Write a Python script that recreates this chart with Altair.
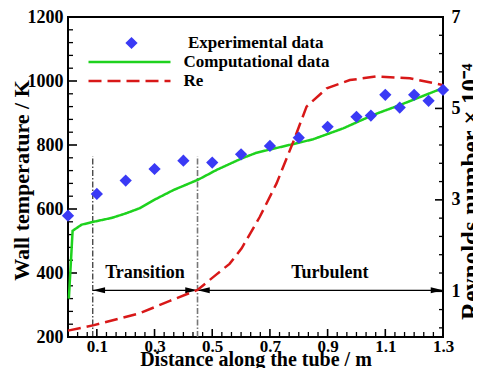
import altair as alt
import pandas as pd

SERIF = "Liberation Serif"
BLUE = "#3a3af5"
GREEN = "#1ed21e"
RED = "#d81818"

W, H = 375, 320

# ---- data ----
exp_x = [0.0, 0.1, 0.2, 0.3, 0.4, 0.5, 0.6, 0.7, 0.8, 0.9, 1.0, 1.05, 1.1, 1.15, 1.2, 1.25, 1.3]
exp_T = [579, 647, 689, 725, 751, 745, 771, 797, 823, 857, 888, 892, 957, 917, 957, 938, 972]

comp_x = [0.003, 0.016, 0.047, 0.088, 0.151, 0.203, 0.25, 0.302, 0.365, 0.452, 0.515,
          0.602, 0.654, 0.781, 0.85, 0.954, 1.058, 1.151, 1.3]
comp_T = [320, 532, 551, 560, 572, 587, 603, 630, 659, 692, 722,
          758, 776, 803, 818, 852, 894, 925, 978]

re_x = [0.0, 0.09, 0.249, 0.353, 0.449, 0.515, 0.56, 0.602, 0.665, 0.723, 0.781,
        0.827, 0.897, 0.977, 1.07, 1.185, 1.3]
re_v = [0.14, 0.26, 0.52, 0.79, 1.03, 1.37, 1.6, 1.94, 2.63, 3.36, 4.27,
        5.04, 5.44, 5.62, 5.70, 5.66, 5.51]

series_names = ["Experimental data", "Computational data", "Re"]

x_labels = [0.1, 0.3, 0.5, 0.7, 0.9, 1.1, 1.3]
x_minor = [round(i / 30, 4) for i in range(1, 39) if i % 6 != 3]
T_labels = [200, 400, 600, 800, 1000, 1200]
T_minor = [v for v in range(240, 1200, 40) if v % 200 != 0]
Re_labels = [1, 3, 5, 7]
Re_minor = [0.2, 0.6, 1.4, 1.8, 2.2, 2.6, 3.4, 3.8, 4.2, 4.6, 5.4, 5.8, 6.2, 6.6]

region_x = [0.086, 0.449]          # start of transition / start of turbulent
region_bottom = 200
region_top = 765
arrow_T = 346
arrow_end = 1.3
region_names = ["Transition", "Turbulent"]
region_label_x = [0.267, 0.908]
region_label_T = 400

# ---- tables ----
df_exp = pd.DataFrame({"x": exp_x, "T": exp_T, "series": series_names[0]})
df_comp = pd.DataFrame({"x": comp_x, "T": comp_T, "series": series_names[1]})
df_re = pd.DataFrame({"x": re_x, "re": re_v, "series": series_names[2]})
df_v1 = pd.DataFrame({"x": [region_x[0]], "y1": [region_bottom], "y2": [region_top]})
df_v2 = pd.DataFrame({"x": [region_x[1]], "y1": [region_bottom], "y2": [region_top]})
df_arrow = pd.DataFrame({"x": [region_x[0]], "x2": [arrow_end], "T": [arrow_T]})
df_head_l = pd.DataFrame({"x": [region_x[0], region_x[1]], "T": [arrow_T, arrow_T]})
df_head_r = pd.DataFrame({"x": [region_x[1], arrow_end], "T": [arrow_T, arrow_T]})
df_lab = pd.DataFrame({"x": region_label_x, "T": [region_label_T] * 2, "name": region_names})

X0, X1 = 0.0, 1.3
T0, T1 = 200, 1200
R0, R1 = 0, 7
xs = alt.Scale(domain=[X0, X1], nice=False, zero=False)
Ts = alt.Scale(domain=[T0, T1], nice=False, zero=False)
Rs = alt.Scale(domain=[R0, R1], nice=False, zero=False)

# tick lengths expressed in data units of each scale (major, minor)
len_T = ((T1 - T0) * 8 / H, (T1 - T0) * 5 / H)
len_X = ((X1 - X0) * 9 / W, (X1 - X0) * 5 / W)
len_XR = ((X1 - X0) * 8 / W, (X1 - X0) * 4 / W)


def ax(**kw):
    base = dict(grid=False, domain=False, ticks=False, tickSize=0, labelFont=SERIF,
                labelFontWeight="bold", labelColor="black", labelFontSize=18,
                labelFlush=False, labelOverlap=False, titleFont=SERIF,
                titleFontWeight="bold", titleColor="black", titleFontSize=22)
    base.update(kw)
    return alt.Axis(**base)


x_lab_axis = ax(orient="bottom", values=x_labels, labelPadding=1, labelFontSize=17,
                format=".1f", title="Distance along the tube / m", titleFontSize=20,
                titleY=28, titleBaseline="alphabetic")
T_lab_axis = ax(orient="left", values=T_labels, labelPadding=5, format="d",
                title="Wall temperature / K", titleAngle=270,
                titleX=-40, titleY=163, titleBaseline="alphabetic")
Re_lab_axis = ax(orient="right", values=Re_labels, labelPadding=8, format="d",
                 title="Reynolds number × 10⁻⁴", titleFontSize=25, titleAngle=270,
                 titleAlign="right", titleBaseline="alphabetic", titleX=35, titleY=46)

pts_legend = alt.Legend(title=None, orient="none", legendX=55, legendY=16.5, padding=0,
                        symbolSize=150, symbolFillColor=BLUE, symbolStrokeWidth=0,
                        labelFont=SERIF, labelFontSize=17, labelFontWeight="bold",
                        labelColor="black", labelOffset=48, clipHeight=19, rowPadding=0,
                        labelLimit=300)
line_legend = alt.Legend(title=None, orient="none", legendX=19, legendY=35.5, padding=0,
                         symbolSize=6724, symbolStrokeWidth=2.5, symbolType="stroke",
                         labelFont=SERIF, labelFontSize=17, labelFontWeight="bold",
                         labelColor="black", labelOffset=11.5, clipHeight=19, rowPadding=0,
                         labelLimit=300)

color_scale = alt.Scale(domain=series_names[1:], range=[GREEN, RED])
dash_scale = alt.Scale(domain=series_names[1:], range=[[1, 0], [13, 6]])


# ---- inward axis ticks, drawn through the scales ----
def xticks(vals, length, width):
    df = pd.DataFrame({"v": vals, "a": T0, "b": T0 + length})
    return alt.Chart(df).mark_rule(color="black", strokeWidth=width).encode(
        x=alt.X("v:Q", scale=xs, axis=None),
        y=alt.Y("a:Q", scale=Ts, axis=None), y2="b:Q")


def yticks(vals, scale, start, length, width):
    df = pd.DataFrame({"v": vals, "a": start, "b": start + length})
    return alt.Chart(df).mark_rule(color="black", strokeWidth=width).encode(
        y=alt.Y("v:Q", scale=scale, axis=None),
        x=alt.X("a:Q", scale=xs, axis=None), x2="b:Q")


tick_layers = [
    xticks(x_labels, len_T[0], 1.6), xticks(x_minor, len_T[1], 1.3),
    yticks(T_labels, Ts, X0, len_X[0], 1.6), yticks(T_minor, Ts, X0, len_X[1], 1.3),
    yticks(Re_labels, Rs, X1, -len_XR[0], 1.6), yticks(Re_minor, Rs, X1, -len_XR[1], 1.3),
]

vline1 = alt.Chart(df_v1).mark_rule(color="black", strokeWidth=1, strokeDash=[6, 2, 1.5, 2]).encode(
    x=alt.X("x:Q", scale=xs, axis=None),
    y=alt.Y("y1:Q", scale=Ts, axis=None), y2="y2:Q")
vline2 = alt.Chart(df_v2).mark_rule(color="#777777", strokeWidth=1.6, strokeDash=[6, 2, 1.5, 2]).encode(
    x=alt.X("x:Q", scale=xs, axis=None),
    y=alt.Y("y1:Q", scale=Ts, axis=None), y2="y2:Q")
arrow = alt.Chart(df_arrow).mark_rule(color="black", strokeWidth=1.2).encode(
    x=alt.X("x:Q", scale=xs, axis=None), x2="x2:Q",
    y=alt.Y("T:Q", scale=Ts, axis=None))
head_l = alt.Chart(df_head_l).mark_point(shape="M0,0L2,-0.5L2,0.5Z", filled=True, color="black",
                                         size=150, opacity=1).encode(
    x=alt.X("x:Q", scale=xs, axis=None), y=alt.Y("T:Q", scale=Ts, axis=None))
head_r = alt.Chart(df_head_r).mark_point(shape="M0,0L-2,-0.5L-2,0.5Z", filled=True, color="black",
                                         size=150, opacity=1).encode(
    x=alt.X("x:Q", scale=xs, axis=None), y=alt.Y("T:Q", scale=Ts, axis=None))
labels = alt.Chart(df_lab).mark_text(font=SERIF, fontWeight="bold", fontSize=18, color="black",
                                     align="center", baseline="middle").encode(
    x=alt.X("x:Q", scale=xs, axis=None), y=alt.Y("T:Q", scale=Ts, axis=None), text="name:N")

comp = alt.Chart(df_comp).mark_line(strokeWidth=2.5).encode(
    x=alt.X("x:Q", scale=xs, axis=None),
    y=alt.Y("T:Q", scale=Ts, axis=None),
    color=alt.Color("series:N", scale=color_scale, legend=line_legend),
    strokeDash=alt.StrokeDash("series:N", scale=dash_scale, legend=line_legend))
re = alt.Chart(df_re).mark_line(strokeWidth=2.5).encode(
    x=alt.X("x:Q", scale=xs, axis=None),
    y=alt.Y("re:Q", scale=Rs, axis=Re_lab_axis),
    color=alt.Color("series:N", scale=color_scale, legend=line_legend),
    strokeDash=alt.StrokeDash("series:N", scale=dash_scale, legend=line_legend))
pts = alt.Chart(df_exp).mark_point(filled=True, size=150, color=BLUE, opacity=1).encode(
    x=alt.X("x:Q", scale=xs, axis=x_lab_axis),
    y=alt.Y("T:Q", scale=Ts, axis=T_lab_axis),
    shape=alt.Shape("series:N", scale=alt.Scale(domain=series_names[:1], range=["diamond"]),
                    legend=pts_legend))

chart = alt.layer(vline1, vline2, arrow, head_l, head_r, labels, *tick_layers, comp, re, pts).resolve_scale(
    y="independent").resolve_axis(x="independent", y="independent").properties(
    width=W, height=H, autosize=alt.AutoSizeParams(type="none"),
    padding={"left": 60, "top": 9, "right": 30, "bottom": 31}).configure_view(
    stroke="black", strokeWidth=2)

chart.save("out.html", embed_options={"renderer": "svg", "actions": False})
